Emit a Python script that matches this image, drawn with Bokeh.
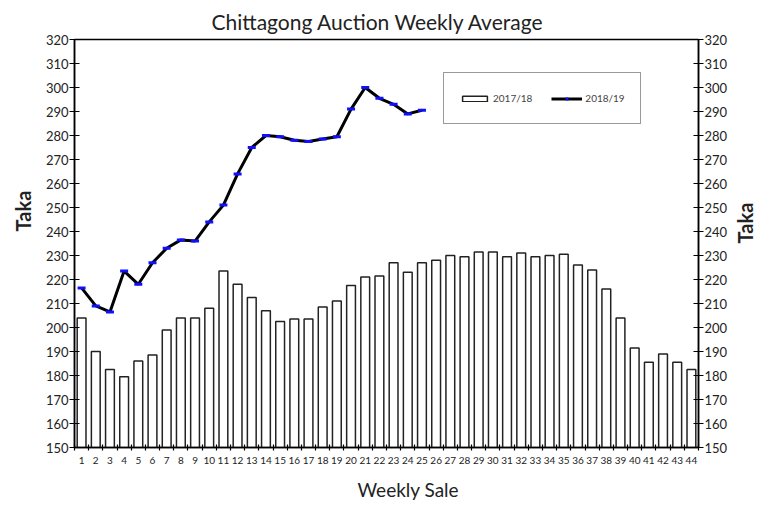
import math
from bokeh.plotting import figure
from bokeh.models import LinearAxis, FixedTicker, Legend, LegendItem, Title
from bokeh.embed import file_html
from bokeh.resources import INLINE

weeks = list(range(1, 45))
season_2017_18 = [204, 190, 182.5, 179.5, 186, 188.5, 199, 204, 204, 208,
                  223.5, 218, 212.5, 207, 202.5, 203.5, 203.5, 208.5, 211, 217.5,
                  221, 221.5, 227, 223, 227, 228, 230, 229.5, 231.5, 231.5,
                  229.5, 231, 229.5, 230, 230.5, 226, 224, 216, 204, 191.5,
                  185.5, 189, 185.5, 182.5]
weeks_2018_19 = list(range(1, 26))
season_2018_19 = [216.5, 209, 206.5, 223.5, 218, 227, 233, 236.5, 236, 244,
                  251, 264, 275, 280, 279.5, 278, 277.5, 278.5, 279.5, 291,
                  300, 295.5, 293, 289, 290.5]
y_ticks = list(range(150, 330, 10))

FONT = "Lato"
TXT = "#222222"

p = figure(frame_width=624, frame_height=408, output_backend="svg", toolbar_location=None,
           x_range=(0.5, 44.5), y_range=(150, 320),
           min_border_left=74, min_border_right=60, min_border_top=39, min_border_bottom=57)
p.title.text = "Chittagong Auction Weekly Average"
p.title.align = "left"
p.title.offset = 137
p.title.text_font = FONT
p.title.text_font_size = "21px"
p.title.text_font_style = "normal"
p.title.text_color = TXT
p.title.standoff = 11

p.xgrid.visible = False
p.ygrid.visible = False
p.outline_line_color = "black"
p.outline_line_width = 1.5
p.background_fill_color = "white"
p.border_fill_color = "white"

bars = p.vbar(x=weeks, top=season_2017_18, bottom=150, width=0.62,
              fill_color="white", line_color=TXT, line_width=1.5)
ln = p.line(weeks_2018_19, season_2018_19, line_color="black", line_width=3)
sc = p.scatter(weeks_2018_19, season_2018_19, marker="dash", size=8,
               line_color="#1010ff", line_width=3)

# x axis
xa = p.xaxis[0]
xa.ticker = FixedTicker(ticks=weeks, minor_ticks=[w + 0.5 for w in range(0, 45)])
xa.major_tick_line_color = None
xa.major_tick_in = 0
xa.major_tick_out = 3
xa.minor_tick_line_color = "black"
xa.minor_tick_in = 3
xa.minor_tick_out = 3
xa.minor_tick_line_width = 1.2
xa.major_label_text_font = FONT
xa.major_label_text_font_size = "10px"
xa.major_label_text_color = TXT
xa.major_label_standoff = 6
xa.axis_line_width = 1.5

def style_y(ax):
    ax.ticker = FixedTicker(ticks=y_ticks)
    ax.minor_tick_line_color = None
    ax.major_tick_in = 5
    ax.major_tick_out = 5
    ax.major_tick_line_width = 1.2
    ax.axis_line_width = 1.5
    ax.major_label_text_font = FONT
    ax.major_label_text_font_size = "13px"
    ax.major_label_text_color = TXT
    ax.major_label_standoff = 1

style_y(p.yaxis[0])

ra = LinearAxis()
style_y(ra)
p.add_layout(ra, "right")

# right-hand axis title, on a bare outer axis, reading bottom-to-top
rt = LinearAxis(ticker=FixedTicker(ticks=[]),
                axis_line_color=None, major_tick_line_color=None, minor_tick_line_color=None,
                major_tick_in=0, major_tick_out=0, minor_tick_in=0, minor_tick_out=0,
                major_label_standoff=0, major_label_text_font_size="1px",
                axis_label="Taka", axis_label_orientation=math.pi / 2,
                axis_label_text_font=FONT, axis_label_text_font_size="20px",
                axis_label_text_font_style="bold", axis_label_text_color=TXT,
                axis_label_standoff=14)
p.add_layout(rt, "right")

# axis titles
p.add_layout(Title(text="Weekly Sale", align="left", offset=283, text_font=FONT,
                   text_font_size="19px", text_font_style="normal", text_color=TXT,
                   standoff=19), "below")
p.add_layout(Title(text="Taka", align="left", offset=216, text_font=FONT,
                   text_font_size="20px", text_font_style="bold", text_color=TXT,
                   standoff=16), "left")

legend = Legend(items=[LegendItem(label="2017/18", renderers=[bars]),
                       LegendItem(label="2018/19", renderers=[ln, sc])],
                orientation="horizontal", location=(369, 323),
                glyph_width=31, glyph_height=7, label_standoff=3, spacing=19,
                padding=15, label_height=20, margin=0,
                label_text_font=FONT, label_text_font_size="10px",
                border_line_color="#333333", border_line_width=1.5,
                background_fill_alpha=1)
p.add_layout(legend)

open("out.html", "w").write(file_html(p, INLINE))
